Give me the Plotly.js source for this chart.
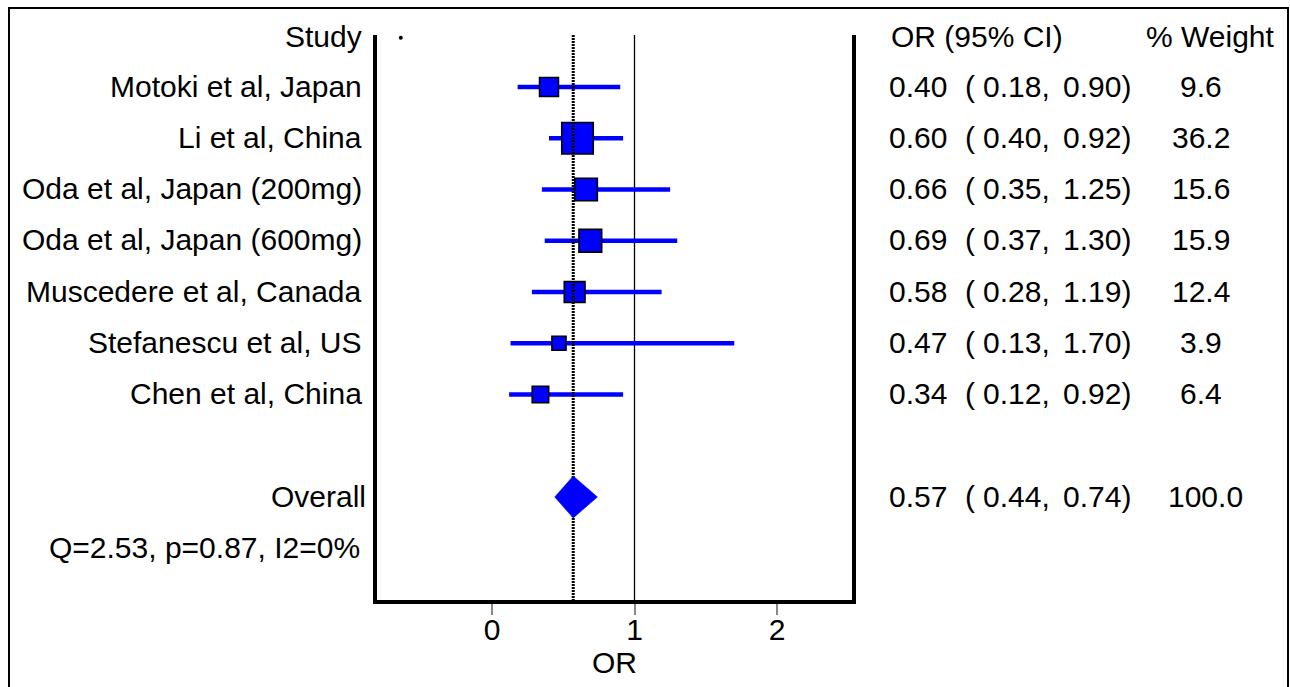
<!DOCTYPE html>
<html>
<head>
<meta charset="utf-8">
<script src="https://cdn.plot.ly/plotly-3.0.1.min.js"></script>
<style>html,body{margin:0;padding:0;background:#fff;}#chart{width:1290px;height:687px;}</style>
</head>
<body>
<div id="chart"></div>
<script>
// ---- data ----
const studies = ["Motoki et al, Japan", "Li et al, China", "Oda et al, Japan (200mg)", "Oda et al, Japan (600mg)",
                 "Muscedere et al, Canada", "Stefanescu et al, US", "Chen et al, China"];
const orValues = [0.40, 0.60, 0.66, 0.69, 0.58, 0.47, 0.34];
const ciLow    = [0.18, 0.40, 0.35, 0.37, 0.28, 0.13, 0.12];
const ciHigh   = [0.90, 0.92, 1.25, 1.30, 1.19, 1.70, 0.92];
const weights  = [9.6, 36.2, 15.6, 15.9, 12.4, 3.9, 6.4];
const overallLabel = "Overall";
const overallOR = 0.57, overallLow = 0.44, overallHigh = 0.74, overallWeight = 100.0;
const hetQ = 2.53, hetP = 0.87, hetI2 = 0;
const headerDotX = [-0.64];
const xTicks = [0, 1, 2];
const nullValue = 1;

// ---- layout helpers ----
const W = 1290, H = 687;
const L = 377, R = 852, T = 35, B = 600;
const px2x = px => (px - L) / (R - L);
const py2y = py => (B - py) / (B - T);
const FONT = "'Liberation Sans', Arial, Helvetica, sans-serif";
const FS = 30;
const BLUE = "#0000ff";

// row indices
const headerRow = 0;
const studyRows = studies.map((s, i) => i + 1);
const overallRow = studies.length + 2;
const hetRow = overallRow + 1;
const rowPx = 51.25, row0Px = 35.75;
const yMin = (T - row0Px) / rowPx, yMax = (B - row0Px) / rowPx;

const traces = [];
// x = 1 reference line
traces.push({x: [nullValue, nullValue], y: [yMin, yMax], mode: "lines",
  line: {color: "#000", width: 1.3}, hoverinfo: "skip", showlegend: false});
// CI lines
studies.forEach((s, i) => {
  traces.push({x: [ciLow[i], ciHigh[i]], y: [studyRows[i], studyRows[i]], mode: "lines",
    line: {color: BLUE, width: 4.5}, hoverinfo: "skip", showlegend: false});
});
// squares
traces.push({x: orValues, y: studyRows, mode: "markers", type: "scatter",
  marker: {symbol: "square", color: BLUE, opacity: 1, size: weights.map(w => 5.6 + 4.3 * Math.sqrt(w)),
           line: {color: "#000", width: 1.6}},
  hoverinfo: "skip", showlegend: false});
// overall dotted line
traces.push({x: [overallOR, overallOR], y: [yMin, yMax], mode: "lines",
  line: {color: "#000", width: 3, dash: "2px,1px"}, hoverinfo: "skip", showlegend: false});
// diamond
const dh = 0.41;
traces.push({x: [overallLow, overallOR, overallHigh, overallOR, overallLow],
  y: [overallRow, overallRow - dh, overallRow, overallRow + dh, overallRow],
  mode: "lines", fill: "toself", fillcolor: BLUE, line: {color: BLUE, width: 0.5},
  hoverinfo: "skip", showlegend: false});
// header dot
traces.push({x: headerDotX, y: [headerRow + 0.04], mode: "markers", cliponaxis: false,
  marker: {color: "#000", size: 4, opacity: 1}, hoverinfo: "skip", showlegend: false});

const f2 = v => v.toFixed(2);
const annotations = [];
function txt(text, px, row, anchor, shift) {
  annotations.push({text: text, xref: "paper", yref: "paper", x: px2x(px), y: py2y(row0Px + row * rowPx),
    xanchor: anchor, yanchor: "middle", showarrow: false, yshift: shift || 0,
    font: {family: FONT, size: FS, color: "#000"}});
}
txt("Study", 364, headerRow, "right", -1);
txt("OR (95% CI)", 889, headerRow, "left", -1);
txt("% Weight", 1277, headerRow, "right", -1);
studies.forEach((s, i) => {
  const r = studyRows[i];
  txt(s, 364, r, "right", 1);
  txt(f2(orValues[i]), 887, r, "left", 1);
  txt("(", 963, r, "left", 1);
  txt(f2(ciLow[i]) + ",", 981, r, "left", 1);
  txt(f2(ciHigh[i]) + ")", 1061, r, "left", 1);
  txt(weights[i].toFixed(1), 1201, r, "center", 1);
});
txt(overallLabel, 368, overallRow, "right", 1);
txt(f2(overallOR), 887, overallRow, "left", 1);
txt("(", 963, overallRow, "left", 1);
txt(f2(overallLow) + ",", 981, overallRow, "left", 1);
txt(f2(overallHigh) + ")", 1061, overallRow, "left", 1);
txt(overallWeight.toFixed(1), 1205, overallRow, "center", 1);
txt("Q=" + f2(hetQ) + ", p=" + f2(hetP) + ", I2=" + hetI2 + "%", 362, hetRow, "right", 1);

const layout = {
  width: W, height: H,
  margin: {l: L, r: W - R, t: T, b: H - B, pad: 0},
  paper_bgcolor: "#fff", plot_bgcolor: "#fff",
  showlegend: false,
  font: {family: FONT, size: FS, color: "#000"},
  xaxis: {range: [(L - 492) / 142.5, (R - 492) / 142.5], tickvals: xTicks, ticktext: xTicks.map(String),
    showgrid: false, zeroline: false, showline: true, linecolor: "#000", linewidth: 4,
    ticks: "outside", ticklen: 11, tickwidth: 2, tickcolor: "#888", ticklabelstandoff: -11,
    tickfont: {family: FONT, size: FS, color: "#000"},
    title: {text: "OR", font: {family: FONT, size: FS, color: "#000"}, standoff: 4},
    fixedrange: true},
  yaxis: {range: [yMax, yMin], showgrid: false, zeroline: false, showticklabels: false, ticks: "",
    showline: true, mirror: true, linecolor: "#000", linewidth: 4, fixedrange: true},
  shapes: [
    {type: "rect", xref: "paper", yref: "paper", x0: px2x(9), x1: px2x(1288), y0: py2y(8), y1: py2y(720),
     line: {color: "#000", width: 2}, fillcolor: "rgba(0,0,0,0)", layer: "above"}
  ],
  annotations: annotations
};

Plotly.newPlot("chart", traces, layout, {displayModeBar: false, staticPlot: true});
</script>
</body>
</html>
